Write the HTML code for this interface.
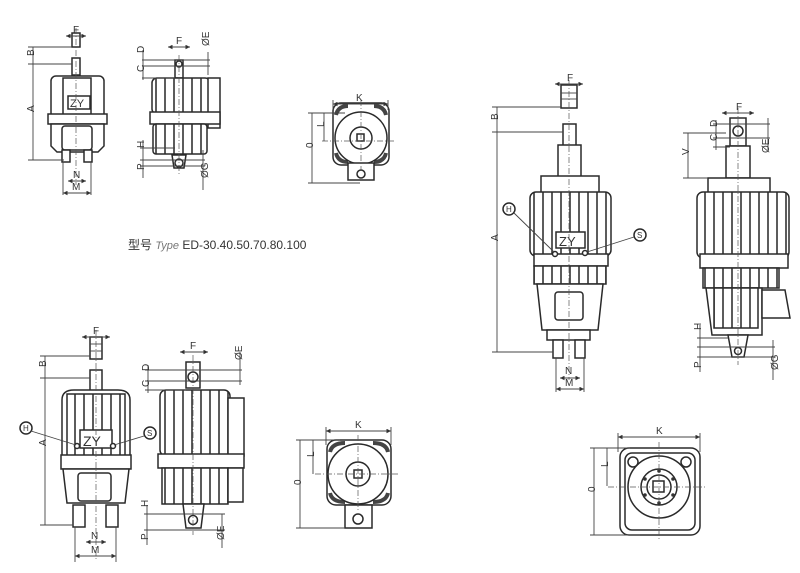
<!DOCTYPE html>
<html><head><meta charset="utf-8"><style>
html,body{margin:0;padding:0;background:#fff;}
svg{display:block}
text{font-family:"Liberation Sans","Noto Sans CJK SC",sans-serif;fill:#333}
.s{stroke:#2a2a2a;stroke-width:1.5;fill:#fff}
.l{stroke:#444;stroke-width:0.9;fill:none}
.c{stroke:#555;stroke-width:0.7;fill:none;stroke-dasharray:6 2 1 2}
.f{stroke:#2a2a2a;stroke-width:1.5;fill:url(#fins)}
.t{font-size:10px}
</style></head><body>
<svg width="800" height="573" viewBox="0 0 800 573" xmlns="http://www.w3.org/2000/svg">
<defs>
<pattern id="fins" width="9" height="10" patternUnits="userSpaceOnUse">
<rect width="9" height="10" fill="#fff"/><line x1="3" y1="0" x2="3" y2="10" stroke="#333" stroke-width="1.6"/>
</pattern>
<marker id="a" viewBox="0 0 6 6" refX="6" refY="3" markerWidth="5" markerHeight="5" orient="auto-start-reverse"><path d="M0,0L6,3L0,6z" fill="#333"/></marker>
</defs>

<g>
<rect class="s" x="72" y="33" width="8" height="14"/>
<rect class="s" x="72" y="58" width="8" height="17"/>
<rect class="s" x="51" y="76" width="53" height="42" rx="5"/>
<rect class="s" x="63" y="78" width="28" height="40"/>
<rect class="s" x="48" y="114" width="59" height="10"/>
<path class="s" d="M51,124H104V146L98,152H57L51,146Z"/>
<rect class="s" x="62" y="126" width="30" height="24" rx="3"/>
<rect class="s" x="68" y="96" width="22" height="13"/>
<text x="70" y="107" style="font-size:11px">ZY</text>
<rect class="s" x="62" y="150" width="8" height="12"/>
<rect class="s" x="84" y="150" width="8" height="12"/>
<line class="c" x1="76" y1="28" x2="76" y2="185"/>
<line class="l" x1="66" y1="36" x2="86" y2="36" marker-start="url(#a)" marker-end="url(#a)"/>
<text class="t" x="73" y="33">F</text>
<line class="l" x1="28" y1="47" x2="72" y2="47"/><line class="l" x1="28" y1="64" x2="72" y2="64"/>
<line class="l" x1="28" y1="160" x2="64" y2="160"/>
<line class="l" x1="33" y1="47" x2="33" y2="64"/><line class="l" x1="33" y1="64" x2="33" y2="160"/>
<text class="t" x="30" y="60" transform="rotate(-90 30 56)">B</text>
<text class="t" x="30" y="116" transform="rotate(-90 30 112)">A</text>
<line class="l" x1="63" y1="162" x2="63" y2="195"/><line class="l" x1="91" y1="162" x2="91" y2="195"/>
<line class="l" x1="68" y1="181" x2="86" y2="181" marker-start="url(#a)" marker-end="url(#a)"/>
<line class="l" x1="63" y1="193" x2="91" y2="193" marker-start="url(#a)" marker-end="url(#a)"/>
<text class="t" x="73" y="178">N</text><text class="t" x="72" y="190">M</text>
</g>

<g>
<rect class="s" x="175" y="60" width="8" height="18"/>
<circle class="s" cx="179" cy="64" r="3"/>
<rect class="f" x="152" y="78" width="58" height="36" rx="5"/>
<rect class="s" x="208" y="78" width="12" height="50"/>
<rect class="s" x="150" y="112" width="70" height="12"/>
<rect class="f" x="153" y="124" width="54" height="30" rx="3"/>
<path class="s" d="M172,155H186L184,168H174Z"/>
<circle class="s" cx="179" cy="163" r="4"/>
<line class="c" x1="179" y1="55" x2="179" y2="175"/>
<line class="l" x1="168" y1="47" x2="190" y2="47" marker-start="url(#a)" marker-end="url(#a)"/>
<text class="t" x="176" y="44">F</text>
<line class="l" x1="142" y1="60" x2="210" y2="60"/><line class="l" x1="142" y1="66" x2="210" y2="66"/><line class="l" x1="142" y1="78" x2="175" y2="78"/>
<line class="l" x1="143" y1="50" x2="143" y2="80"/>
<text class="t" x="140" y="57" transform="rotate(-90 140 53)">D</text>
<text class="t" x="140" y="76" transform="rotate(-90 140 72)">C</text>
<line class="l" x1="208" y1="52" x2="208" y2="75"/>
<text class="t" x="205" y="50" transform="rotate(-90 205 46)">ØE</text>
<line class="l" x1="140" y1="148" x2="175" y2="148"/><line class="l" x1="140" y1="160" x2="205" y2="160"/><line class="l" x1="140" y1="166" x2="205" y2="166"/>
<line class="l" x1="143" y1="140" x2="143" y2="178"/>
<text class="t" x="140" y="152" transform="rotate(-90 140 148)">H</text>
<text class="t" x="140" y="174" transform="rotate(-90 140 170)">P</text>
<line class="l" x1="203" y1="150" x2="203" y2="190"/>
<text class="t" x="204" y="182" transform="rotate(-90 204 178)">ØG</text>
</g>

<g>
<rect class="s" x="333" y="103" width="56" height="62" rx="8"/>
<path d="M336,115Q338,106 348,106" stroke="#444" stroke-width="4" fill="none"/>
<path d="M386,115Q384,106 374,106" stroke="#444" stroke-width="4" fill="none"/>
<path d="M336,153Q338,162 348,162" stroke="#444" stroke-width="4" fill="none"/>
<path d="M386,153Q384,162 374,162" stroke="#444" stroke-width="4" fill="none"/>
<circle class="s" cx="361" cy="138" r="26"/>
<circle class="s" cx="361" cy="138" r="11"/>
<rect class="s" x="357" y="134" width="7" height="7"/>
<path class="s" d="M348,163H374V180H348Z"/>
<circle class="s" cx="361" cy="174" r="4"/>
<line class="c" x1="322" y1="141" x2="395" y2="141"/><line class="c" x1="361" y1="100" x2="361" y2="170"/>
<line class="l" x1="333" y1="100" x2="333" y2="110"/><line class="l" x1="388" y1="100" x2="388" y2="110"/>
<line class="l" x1="333" y1="104" x2="388" y2="104" marker-start="url(#a)" marker-end="url(#a)"/>
<text class="t" x="356" y="101">K</text>
<line class="l" x1="308" y1="113" x2="345" y2="113"/><line class="l" x1="308" y1="183" x2="360" y2="183"/>
<line class="l" x1="312" y1="113" x2="312" y2="183"/><line class="l" x1="324" y1="113" x2="324" y2="141"/>
<text class="t" x="309" y="152" transform="rotate(-90 309 148)">0</text>
<text class="t" x="320" y="131" transform="rotate(-90 320 127)">L</text>
</g>

<text x="128" y="249" style="font-size:12px">型号 <tspan style="font-style:italic;fill:#777;font-size:11px">Type</tspan>  ED-30.40.50.70.80.100</text>

<g>
<rect class="s" x="561" y="85" width="16" height="23"/>
<line class="l" x1="561" y1="93" x2="577" y2="93"/><line class="l" x1="561" y1="99" x2="577" y2="99"/>
<rect class="s" x="563" y="124" width="13" height="22"/>
<rect class="s" x="558" y="145" width="23" height="32"/>
<rect class="s" x="541" y="176" width="58" height="20"/>
<rect class="f" x="530" y="192" width="81" height="64" rx="6"/>
<rect class="s" x="534" y="254" width="74" height="12"/>
<rect class="f" x="534" y="266" width="72" height="18"/>
<path class="s" d="M537,284H603L598,330H542Z"/>
<rect class="s" x="555" y="292" width="28" height="28" rx="3"/>
<rect class="s" x="547" y="330" width="43" height="10"/>
<rect class="s" x="553" y="340" width="10" height="18"/>
<rect class="s" x="575" y="340" width="10" height="18"/>
<rect class="s" x="556" y="232" width="29" height="16"/>
<text x="559" y="246" style="font-size:13px">ZY</text>
<circle class="s" cx="555" cy="254" r="2.5"/><circle class="s" cx="585" cy="253" r="2.5"/>
<line class="c" x1="569" y1="80" x2="569" y2="380"/>
<circle class="s" cx="509" cy="209" r="6"/><text class="t" x="506" y="212" style="font-size:8px">H</text>
<line class="l" x1="514" y1="213" x2="554" y2="252"/>
<circle class="s" cx="640" cy="235" r="6"/><text class="t" x="637" y="238" style="font-size:8px">S</text>
<line class="l" x1="634" y1="237" x2="587" y2="252"/>
<line class="l" x1="555" y1="84" x2="583" y2="84" marker-start="url(#a)" marker-end="url(#a)"/>
<text class="t" x="567" y="81">F</text>
<line class="l" x1="492" y1="107" x2="561" y2="107"/><line class="l" x1="492" y1="132" x2="563" y2="132"/><line class="l" x1="492" y1="352" x2="553" y2="352"/>
<line class="l" x1="497" y1="107" x2="497" y2="352"/>
<text class="t" x="494" y="124" transform="rotate(-90 494 120)">B</text>
<text class="t" x="494" y="245" transform="rotate(-90 494 241)">A</text>
<line class="l" x1="556" y1="358" x2="556" y2="392"/><line class="l" x1="584" y1="358" x2="584" y2="392"/>
<line class="l" x1="560" y1="378" x2="580" y2="378" marker-start="url(#a)" marker-end="url(#a)"/>
<line class="l" x1="556" y1="389" x2="584" y2="389" marker-start="url(#a)" marker-end="url(#a)"/>
<text class="t" x="565" y="374">N</text><text class="t" x="565" y="386">M</text>
</g>

<g>
<rect class="s" x="730" y="118" width="16" height="28"/>
<circle class="s" cx="738" cy="131" r="5"/>
<rect class="s" x="726" y="146" width="24" height="32"/>
<rect class="s" x="708" y="178" width="62" height="18"/>
<rect class="f" x="697" y="192" width="92" height="66" rx="6"/>
<rect class="s" x="700" y="254" width="88" height="14"/>
<rect class="f" x="703" y="268" width="76" height="20"/>
<path class="s" d="M706,288H762V335H712Z"/>
<rect class="f" x="714" y="288" width="44" height="40"/>
<path class="s" d="M762,290H785L790,318H762Z"/>
<path class="s" d="M728,335H748L744,357H732Z"/>
<circle class="s" cx="738" cy="351" r="3.5"/>
<line class="c" x1="738" y1="108" x2="738" y2="365"/>
<line class="l" x1="722" y1="113" x2="754" y2="113" marker-start="url(#a)" marker-end="url(#a)"/>
<text class="t" x="736" y="110">F</text>
<line class="l" x1="713" y1="124" x2="770" y2="124"/><line class="l" x1="713" y1="138" x2="770" y2="138"/><line class="l" x1="713" y1="147" x2="730" y2="147"/>
<line class="l" x1="716" y1="120" x2="716" y2="150"/>
<text class="t" x="713" y="131" transform="rotate(-90 713 127)">D</text>
<text class="t" x="713" y="145" transform="rotate(-90 713 141)">C</text>
<line class="l" x1="683" y1="133" x2="726" y2="133"/><line class="l" x1="683" y1="178" x2="708" y2="178"/>
<line class="l" x1="688" y1="133" x2="688" y2="178"/>
<text class="t" x="685" y="159" transform="rotate(-90 685 155)">V</text>
<line class="l" x1="768" y1="118" x2="768" y2="150"/>
<text class="t" x="765" y="157" transform="rotate(-90 765 153)">ØE</text>
<line class="l" x1="697" y1="338" x2="728" y2="338"/><line class="l" x1="697" y1="347" x2="775" y2="347"/><line class="l" x1="697" y1="357" x2="775" y2="357"/>
<line class="l" x1="700" y1="325" x2="700" y2="372"/>
<text class="t" x="697" y="334" transform="rotate(-90 697 330)">H</text>
<line class="l" x1="773" y1="340" x2="773" y2="380"/>
<text class="t" x="774" y="374" transform="rotate(-90 774 370)">ØG</text>
<text class="t" x="697" y="372" transform="rotate(-90 697 368)">P</text>
</g>

<g>
<rect class="s" x="90" y="337" width="12" height="22"/>
<line class="l" x1="90" y1="344" x2="102" y2="344"/><line class="l" x1="90" y1="351" x2="102" y2="351"/>
<rect class="s" x="90" y="370" width="12" height="22"/>
<path class="s" d="M62,460V400Q62,390 74,390H118Q130,390 130,400V460Z"/>
<rect class="f" x="67" y="394" width="58" height="62"/>
<rect class="s" x="80" y="430" width="32" height="18"/>
<text x="83" y="446" style="font-size:14px">ZY</text>
<circle class="s" cx="77" cy="446" r="2.5"/><circle class="s" cx="113" cy="446" r="2.5"/>
<rect class="s" x="61" y="455" width="70" height="14"/>
<path class="s" d="M63,469H129L125,503H67Z"/>
<rect class="s" x="78" y="473" width="33" height="28" rx="3"/>
<rect class="s" x="73" y="505" width="12" height="22"/><rect class="s" x="106" y="505" width="12" height="22"/>
<line class="c" x1="96" y1="330" x2="96" y2="560"/>
<circle class="s" cx="26" cy="428" r="6"/><text class="t" x="23" y="431" style="font-size:8px">H</text>
<line class="l" x1="31" y1="431" x2="76" y2="445"/>
<circle class="s" cx="150" cy="433" r="6"/><text class="t" x="147" y="436" style="font-size:8px">S</text>
<line class="l" x1="144" y1="436" x2="114" y2="445"/>
<line class="l" x1="82" y1="337" x2="110" y2="337" marker-start="url(#a)" marker-end="url(#a)"/>
<text class="t" x="93" y="334">F</text>
<line class="l" x1="40" y1="356" x2="90" y2="356"/><line class="l" x1="40" y1="378" x2="90" y2="378"/><line class="l" x1="40" y1="525" x2="73" y2="525"/>
<line class="l" x1="45" y1="356" x2="45" y2="525"/>
<text class="t" x="42" y="371" transform="rotate(-90 42 367)">B</text>
<text class="t" x="42" y="450" transform="rotate(-90 42 446)">A</text>
<line class="l" x1="75" y1="527" x2="75" y2="562"/><line class="l" x1="116" y1="527" x2="116" y2="562"/>
<line class="l" x1="86" y1="542" x2="106" y2="542" marker-start="url(#a)" marker-end="url(#a)"/>
<line class="l" x1="75" y1="556" x2="116" y2="556" marker-start="url(#a)" marker-end="url(#a)"/>
<text class="t" x="91" y="539">N</text><text class="t" x="91" y="553">M</text>
</g>

<g>
<rect class="s" x="186" y="362" width="14" height="26"/>
<circle class="s" cx="193" cy="377" r="5"/>
<rect class="f" x="160" y="390" width="70" height="66" rx="6"/>
<rect class="s" x="228" y="398" width="16" height="58"/>
<rect class="s" x="158" y="454" width="86" height="14"/>
<rect class="f" x="162" y="468" width="66" height="36"/>
<path class="s" d="M228,468H243V502H228Z"/>
<path class="s" d="M183,504H204L201,528H186Z"/>
<circle class="s" cx="193" cy="520" r="4.5"/>
<line class="c" x1="193" y1="355" x2="193" y2="535"/>
<line class="l" x1="180" y1="352" x2="208" y2="352" marker-start="url(#a)" marker-end="url(#a)"/>
<text class="t" x="190" y="349">F</text>
<line class="l" x1="145" y1="370" x2="242" y2="370"/><line class="l" x1="145" y1="381" x2="242" y2="381"/><line class="l" x1="145" y1="390" x2="186" y2="390"/>
<line class="l" x1="148" y1="365" x2="148" y2="393"/>
<text class="t" x="145" y="375" transform="rotate(-90 145 371)">D</text>
<text class="t" x="145" y="391" transform="rotate(-90 145 387)">C</text>
<line class="l" x1="240" y1="352" x2="240" y2="385"/>
<text class="t" x="238" y="364" transform="rotate(-90 238 360)">ØE</text>
<line class="l" x1="144" y1="514" x2="225" y2="514"/><line class="l" x1="144" y1="530" x2="225" y2="530"/>
<line class="l" x1="147" y1="505" x2="147" y2="545"/>
<text class="t" x="144" y="511" transform="rotate(-90 144 507)">H</text>
<text class="t" x="144" y="544" transform="rotate(-90 144 540)">P</text>
<line class="l" x1="222" y1="514" x2="222" y2="548"/>
<text class="t" x="220" y="544" transform="rotate(-90 220 540)">ØE</text>
</g>

<g>
<rect class="s" x="327" y="440" width="64" height="65" rx="9"/>
<path d="M330,452Q332,443 345,443" stroke="#444" stroke-width="4" fill="none"/>
<path d="M388,452Q386,443 373,443" stroke="#444" stroke-width="4" fill="none"/>
<path d="M330,493Q332,502 345,502" stroke="#444" stroke-width="4" fill="none"/>
<path d="M388,493Q386,502 373,502" stroke="#444" stroke-width="4" fill="none"/>
<circle class="s" cx="358" cy="474" r="30"/>
<circle class="s" cx="358" cy="474" r="12"/>
<rect class="s" x="354" y="470" width="8" height="8"/>
<path class="s" d="M345,505H372V528H345Z"/>
<circle class="s" cx="358" cy="519" r="5"/>
<line class="c" x1="315" y1="474" x2="398" y2="474"/><line class="c" x1="358" y1="435" x2="358" y2="512"/>
<line class="l" x1="326" y1="427" x2="326" y2="445"/><line class="l" x1="391" y1="427" x2="391" y2="445"/>
<line class="l" x1="326" y1="431" x2="391" y2="431" marker-start="url(#a)" marker-end="url(#a)"/>
<text class="t" x="355" y="428">K</text>
<line class="l" x1="296" y1="440" x2="340" y2="440"/><line class="l" x1="296" y1="528" x2="345" y2="528"/>
<line class="l" x1="300" y1="440" x2="300" y2="528"/><line class="l" x1="313" y1="440" x2="313" y2="474"/>
<text class="t" x="297" y="489" transform="rotate(-90 297 485)">0</text>
<text class="t" x="310" y="461" transform="rotate(-90 310 457)">L</text>
</g>

<g>
<rect class="s" x="620" y="448" width="80" height="87" rx="9"/>
<rect class="s" x="625" y="453" width="70" height="77" rx="7"/>
<circle class="s" cx="659" cy="487" r="31"/>
<circle class="s" cx="659" cy="487" r="18"/>
<circle class="s" cx="659" cy="487" r="12"/>
<rect class="s" x="653" y="481" width="11" height="11"/>
<circle class="s" cx="633" cy="462" r="5"/><circle class="s" cx="686" cy="462" r="5"/>
<circle cx="659" cy="471" r="1.8" fill="#333"/><circle cx="659" cy="503" r="1.8" fill="#333"/>
<circle cx="645" cy="479" r="1.8" fill="#333"/><circle cx="673" cy="479" r="1.8" fill="#333"/>
<circle cx="645" cy="495" r="1.8" fill="#333"/><circle cx="673" cy="495" r="1.8" fill="#333"/>
<line class="c" x1="608" y1="487" x2="705" y2="487"/><line class="c" x1="659" y1="442" x2="659" y2="540"/>
<line class="l" x1="618" y1="433" x2="618" y2="452"/><line class="l" x1="700" y1="433" x2="700" y2="452"/>
<line class="l" x1="618" y1="437" x2="700" y2="437" marker-start="url(#a)" marker-end="url(#a)"/>
<text class="t" x="656" y="434">K</text>
<line class="l" x1="590" y1="448" x2="630" y2="448"/><line class="l" x1="590" y1="535" x2="640" y2="535"/>
<line class="l" x1="594" y1="448" x2="594" y2="535"/><line class="l" x1="607" y1="448" x2="607" y2="486"/>
<text class="t" x="591" y="496" transform="rotate(-90 591 492)">0</text>
<text class="t" x="604" y="471" transform="rotate(-90 604 467)">L</text>
</g>
</svg>
</body></html>
